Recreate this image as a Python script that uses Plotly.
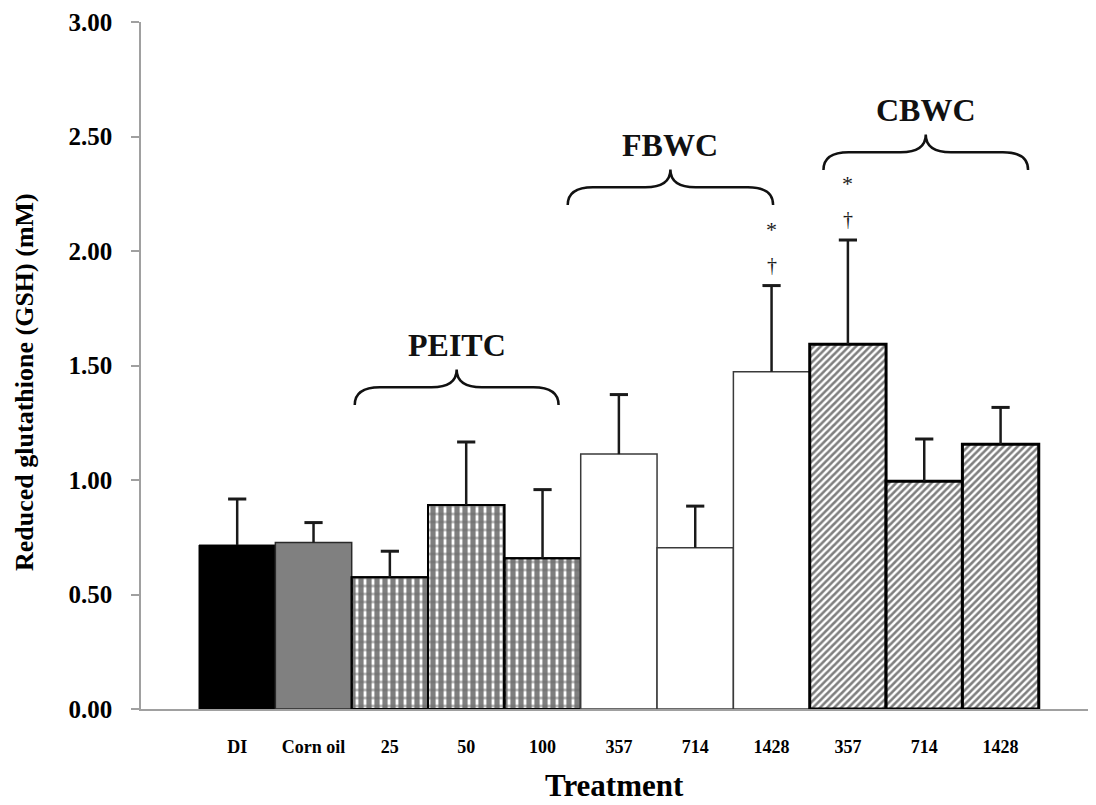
import plotly.graph_objects as go

# ---- data ----
labels = ["DI", "Corn oil", "25", "50", "100", "357", "714", "1428", "357", "714", "1428"]
means = [0.716, 0.727, 0.575, 0.891, 0.658, 1.113, 0.704, 1.473, 1.593, 0.994, 1.156]
errors = [0.201, 0.087, 0.114, 0.275, 0.300, 0.260, 0.182, 0.376, 0.455, 0.185, 0.161]
groups = ["DI", "Corn oil", "PEITC", "PEITC", "PEITC", "FBWC", "FBWC", "FBWC", "CBWC", "CBWC", "CBWC"]
brace_names = ["PEITC", "FBWC", "CBWC"]
brace_start = [1.54, 4.33, 7.68]
brace_end = [4.21, 7.02, 10.36]
brace_base = [1.328, 2.201, 2.354]
sig_index = [7, 8]
sig_marks_top = ["*", "*"]
sig_marks_low = ["\u2020", "\u2020"]
y_ticks = [0.0, 0.5, 1.0, 1.5, 2.0, 2.5, 3.0]

FONT = "Liberation Serif"
INK = "#1a1a1a"

def idx(g):
    return [i for i, gg in enumerate(groups) if gg == g]

def vals(ix, arr):
    return [arr[i] for i in ix]

fig = go.Figure()

def add_bar(g, marker):
    ix = idx(g)
    fig.add_trace(go.Bar(x=ix, y=vals(ix, means), width=1, marker=marker,
                         showlegend=False, hoverinfo="y"))

add_bar("DI", dict(color="#000000", line=dict(color="#000000", width=1)))
add_bar("Corn oil", dict(color="#808080", line=dict(color="#2a2a2a", width=1.5)))
add_bar("PEITC", dict(color="white", line=dict(color="#000000", width=2),
                      pattern=dict(shape="|", fgcolor="#000000", bgcolor="white", size=8, solidity=0.65)))
add_bar("PEITC", dict(color="rgba(0,0,0,0)", line=dict(color="#000000", width=2),
                      pattern=dict(shape="-", fgcolor="#6e6e6e", bgcolor="rgba(0,0,0,0)", size=8, solidity=0.35)))
add_bar("FBWC", dict(color="white", line=dict(color="#3a3a3a", width=1.5)))
add_bar("CBWC", dict(color="white", line=dict(color="#000000", width=3),
                     pattern=dict(shape="/", fgcolor="#000000", bgcolor="white", size=5, solidity=0.52)))

# upper error bars (stem + cap), drawn from the data
stem_x, stem_y = [], []
for i, (m, e) in enumerate(zip(means, errors)):
    stem_x += [i, i, None]
    stem_y += [m, m + e, None]
fig.add_trace(go.Scatter(x=stem_x, y=stem_y, mode="lines", line=dict(color=INK, width=2.5),
                         showlegend=False, hoverinfo="skip"))
fig.add_trace(go.Scatter(x=list(range(len(means))), y=[m + e for m, e in zip(means, errors)],
                         mode="markers", marker=dict(symbol="line-ew-open", size=13, color=INK,
                                                     line=dict(color=INK, width=3)),
                         showlegend=False, hoverinfo="skip"))

# braces and group labels
brace_h = 0.155
rx = 0.33
for name, x0, x1, yb in zip(brace_names, brace_start, brace_end, brace_base):
    xm = (x0 + x1) / 2
    ym = yb + brace_h * 0.5
    yt = yb + brace_h
    path = (f"M {x0},{yb} Q {x0},{ym} {x0 + rx},{ym} L {xm - rx},{ym} "
            f"Q {xm},{ym} {xm},{yt} Q {xm},{ym} {xm + rx},{ym} "
            f"L {x1 - rx},{ym} Q {x1},{ym} {x1},{yb}")
    fig.add_shape(type="path", path=path, xref="x", yref="y",
                  line=dict(color="#111111", width=2.5))
    fig.add_annotation(x=xm, y=yt + 0.105, xref="x", yref="y", text=name, showarrow=False,
                       font=dict(family=FONT, size=32, color="#111111", weight="bold"),
                       xanchor="center", yanchor="middle")

# significance marks
for i, mt, ml in zip(sig_index, sig_marks_top, sig_marks_low):
    top = means[i] + errors[i]
    fig.add_annotation(x=i, y=top + 0.09, xref="x", yref="y", text=ml, showarrow=False,
                       font=dict(family=FONT, size=20, color=INK), yanchor="middle")
    fig.add_annotation(x=i, y=top + 0.245, xref="x", yref="y", text=mt, showarrow=False,
                       font=dict(family=FONT, size=22, color=INK), yanchor="middle")

# axis titles
fig.add_annotation(x=-0.1215, y=0.476, xref="paper", yref="paper",
                   text="Reduced glutathione (GSH) (mM)", textangle=-90, showarrow=False,
                   font=dict(family=FONT, size=26, color="#000000", weight="bold"),
                   xanchor="center", yanchor="middle")
fig.add_annotation(x=0.496, y=-0.112, xref="paper", yref="paper",
                   text="Treatment", showarrow=False,
                   font=dict(family=FONT, size=31, color="#000000", weight="bold"),
                   xanchor="center", yanchor="middle")

fig.update_layout(
    width=1088, height=797,
    margin=dict(l=133, r=0, t=14, b=96),
    paper_bgcolor="white", plot_bgcolor="white",
    barmode="overlay",
    xaxis=dict(range=[-1.26, 11.25], tickmode="array", tickvals=list(range(len(labels))),
               ticktext=labels, showgrid=False, zeroline=False, showline=True,
               linecolor="#a0a0a0", linewidth=2, ticks="", ticklabelstandoff=20,
               tickfont=dict(family=FONT, size=18, color="#000000", weight="bold")),
    yaxis=dict(range=[0, 3], tickmode="array", tickvals=y_ticks, tickformat=".2f",
               showgrid=False, zeroline=False, showline=True, linecolor="#a0a0a0", linewidth=1.5,
               ticks="outside", ticklen=8, tickcolor="#a0a0a0", tickwidth=1.5,
               ticklabelstandoff=14,
               tickfont=dict(family=FONT, size=25, color="#000000", weight="bold")),
)

fig.write_html("out.html")
